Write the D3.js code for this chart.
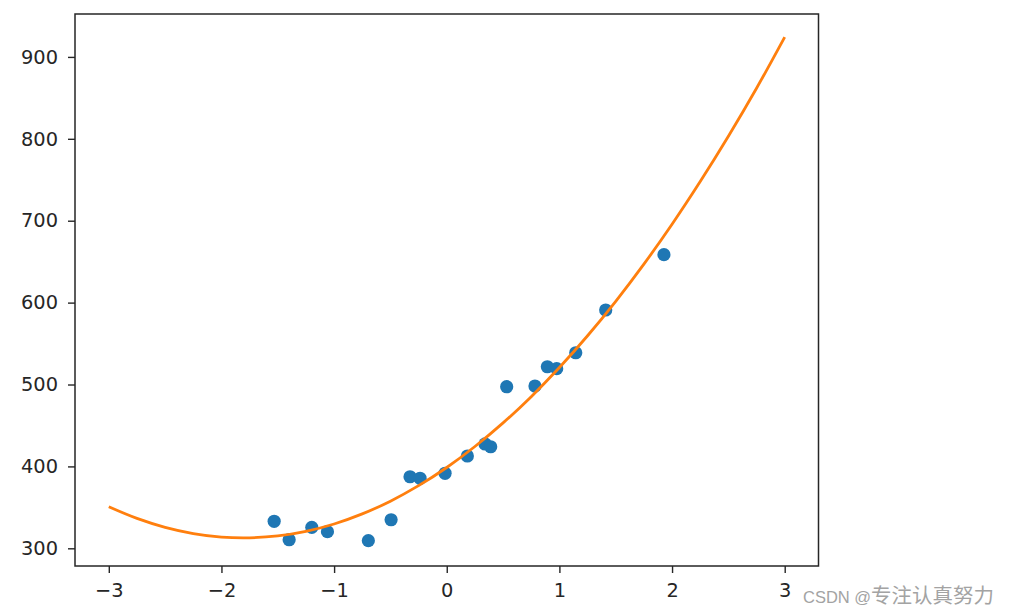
<!DOCTYPE html>
<html>
<head>
<meta charset="utf-8">
<script src="https://cdn.jsdelivr.net/npm/d3@7"></script>
<style>
    body { margin: 0; background: #fff; }
    .axis text { font-family: "DejaVu Sans", sans-serif; font-size: 19.4px; fill: #262626; }
    .axis line { stroke: #262626; stroke-width: 1.4; }
</style>
</head>
<body>
<div id="chart"></div>
<script>

// scatter samples
var pointX = [-1.532, -1.399, -1.198, -1.059, -0.696, -0.494, -0.326, -0.237, -0.015, 0.183,
    0.340, 0.390, 0.532, 0.783, 0.893, 0.976, 1.145, 1.411, 1.928];
var pointY = [333.0, 310.5, 325.6, 320.3, 309.3, 334.9, 387.4, 385.5, 391.6, 412.7,
    427.4, 424.0, 497.3, 498.2, 521.7, 519.3, 538.8, 591.0, 658.5];

// fitted curve
var curveX = [-3, -2.75, -2.5, -2.25, -2, -1.75, -1.5, -1.25, -1, -0.75, -0.5, -0.25, 0,
    0.25, 0.5, 0.75, 1, 1.25, 1.5, 1.75, 2, 2.25, 2.5, 2.75, 3];
var curveY = [350.7, 336.5, 325.6, 318.0, 313.7, 312.8, 315.1, 320.7, 329.7, 342.0, 357.6, 376.5, 398.7,
    424.3, 453.1, 485.2, 520.7, 559.5, 601.6, 647.0, 695.7, 747.8, 803.1, 861.7, 924.2];

var xTicks = [-3, -2, -1, 0, 1, 2, 3];
var yTicks = [300, 400, 500, 600, 700, 800, 900];

var width = 1009, height = 616;
var plot = { left: 75, right: 818.5, top: 14, bottom: 566 };

var svg = d3.select('#chart')
    .append('svg')
    .attr('width', width)
    .attr('height', height);

var xScale = d3.scaleLinear()
    .domain([-3.3, 3.3])
    .range([plot.left, plot.right]);

var yScale = d3.scaleLinear()
    .domain([278.4, 952.4])
    .range([plot.bottom, plot.top]);

var points = pointX.map((x, i) => ({ x: x, y: pointY[i] }));
var fit = curveX.map((x, i) => ({ x: x, y: curveY[i] }));

svg.append('g')
    .attr('class', 'axis x-axis')
    .attr('transform', 'translate(0,' + plot.bottom + ')')
    .call(d3.axisBottom(xScale)
        .tickValues(xTicks)
        .tickFormat(d3.format('d'))
        .tickSize(7)
        .tickSizeOuter(0)
        .tickPadding(10))
    .call(g => g.select('.domain').remove());

svg.append('g')
    .attr('class', 'axis y-axis')
    .attr('transform', 'translate(' + plot.left + ',0)')
    .call(d3.axisLeft(yScale)
        .tickValues(yTicks)
        .tickFormat(d3.format('d'))
        .tickSize(7)
        .tickSizeOuter(0)
        .tickPadding(10))
    .call(g => g.select('.domain').remove());

svg.append('g')
    .selectAll('circle')
    .data(points)
    .enter()
    .append('circle')
    .attr('cx', d => xScale(d.x))
    .attr('cy', d => yScale(d.y))
    .attr('r', 6.6)
    .style('fill', '#1f77b4');

var line = d3.line()
    .x(d => xScale(d.x))
    .y(d => yScale(d.y))
    .curve(d3.curveCatmullRom);

svg.append('path')
    .datum(fit)
    .attr('d', line)
    .style('fill', 'none')
    .style('stroke', '#ff7f0e')
    .style('stroke-width', 2.8);

svg.append('rect')
    .attr('x', plot.left)
    .attr('y', plot.top)
    .attr('width', plot.right - plot.left)
    .attr('height', plot.bottom - plot.top)
    .style('fill', 'none')
    .style('stroke', '#262626')
    .style('stroke-width', 1.5);

// watermark
var mark = svg.append('text')
    .attr('x', 803)
    .attr('y', 603)
    .style('fill', '#a3a3a3');

mark.append('tspan')
    .style('font-family', '"Liberation Sans", sans-serif')
    .style('font-size', '16.5px')
    .text('CSDN @');

mark.append('tspan')
    .style('font-family', '"Noto Sans CJK SC", sans-serif')
    .style('font-size', '20.5px')
    .text('专注认真努力');

</script>
</body>
</html>
